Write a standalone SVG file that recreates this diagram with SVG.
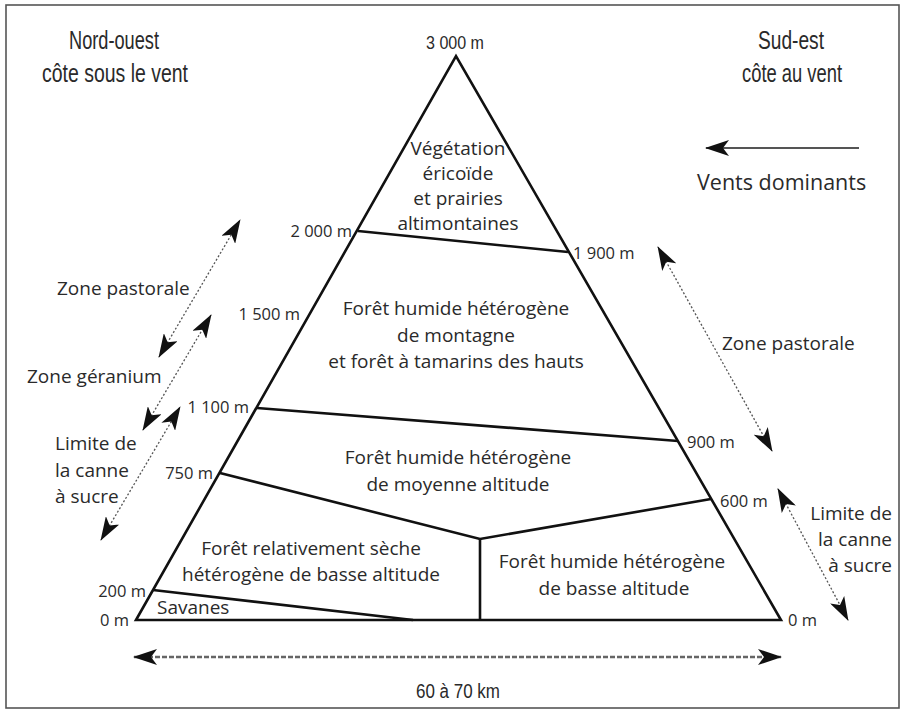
<svg xmlns="http://www.w3.org/2000/svg" width="907" height="714" viewBox="0 0 907 714">
<style>
.t{font-family:"Open Sans","Liberation Sans",sans-serif;font-size:19px;fill:#2a2a2a}
.c{text-anchor:middle}
.e{text-anchor:end}
.alt{font-family:"Open Sans","Liberation Sans",sans-serif;font-size:16.5px;fill:#2a2a2a}
.h{font-family:"Liberation Sans Narrow","Liberation Sans",sans-serif;font-size:25px;fill:#2a2a2a;text-anchor:middle}
.m{fill:none;stroke:#111;stroke-width:2.6;stroke-linejoin:miter}
.dot{stroke:#555;stroke-width:1.3;stroke-dasharray:2 2;fill:none}
.dash{stroke:#666;stroke-width:2.4;stroke-dasharray:5 2;fill:none}
</style>
<defs>
<marker id="ah" markerUnits="userSpaceOnUse" markerWidth="24" markerHeight="16" refX="23" refY="8" orient="auto-start-reverse" viewBox="0 0 24 16">
<path d="M0,0 L24,8 L0,16 L6,8 z" fill="#111"/>
</marker>
</defs>
<rect x="6" y="5" width="893" height="703" fill="#fff" stroke="#555" stroke-width="1.6"/>

<g id="mountain">
<polygon class="m" points="136,620 456,56 781,620"/>
<line class="m" x1="358" y1="231" x2="568" y2="252"/>
<line class="m" x1="257" y1="408" x2="678" y2="441"/>
<polyline class="m" points="220,473 480,539 711,499"/>
<line class="m" x1="480" y1="539" x2="480" y2="620"/>
<line class="m" x1="153" y1="590" x2="413" y2="620"/>
</g>

<g id="headings">
<text class="h" x="114" y="49" textLength="90" lengthAdjust="spacingAndGlyphs">Nord-ouest</text>
<text class="h" x="115" y="82" textLength="146" lengthAdjust="spacingAndGlyphs">côte sous le vent</text>
<text class="h" x="791" y="49" textLength="66" lengthAdjust="spacingAndGlyphs">Sud-est</text>
<text class="h" x="792" y="82" textLength="100" lengthAdjust="spacingAndGlyphs">côte au vent</text>
<text class="h" x="455" y="49" style="font-size:18px" textLength="58" lengthAdjust="spacingAndGlyphs">3 000 m</text>
<text class="h" x="458" y="698" style="font-size:20px" textLength="84" lengthAdjust="spacingAndGlyphs">60 à 70 km</text>
</g>

<g id="zone-top">
<text class="t c" x="458" y="155">Végétation</text>
<text class="t c" x="458" y="180">éricoïde</text>
<text class="t c" x="458" y="205">et prairies</text>
<text class="t c" x="458" y="230">altimontaines</text>
</g>
<g id="zone-montagne">
<text class="t c" x="456" y="315">Forêt humide hétérogène</text>
<text class="t c" x="456" y="342">de montagne</text>
<text class="t c" x="456" y="368">et forêt à tamarins des hauts</text>
</g>
<g id="zone-moyenne">
<text class="t c" x="458" y="464">Forêt humide hétérogène</text>
<text class="t c" x="458" y="491">de moyenne altitude</text>
</g>
<g id="zone-seche">
<text class="t c" x="311" y="555">Forêt relativement sèche</text>
<text class="t c" x="311" y="581">hétérogène de basse altitude</text>
</g>
<g id="zone-basse">
<text class="t c" x="612" y="568">Forêt humide hétérogène</text>
<text class="t c" x="614" y="595">de basse altitude</text>
</g>
<g id="savanes">
<text class="t" x="157" y="614">Savanes</text>
</g>

<g id="altitudes">
<text class="alt e" x="352" y="237">2 000 m</text>
<text class="alt" x="573" y="259">1 900 m</text>
<text class="alt e" x="300" y="320">1 500 m</text>
<text class="alt e" x="249" y="413">1 100 m</text>
<text class="alt" x="687" y="448">900 m</text>
<text class="alt e" x="213" y="479">750 m</text>
<text class="alt" x="720" y="507">600 m</text>
<text class="alt e" x="146" y="597">200 m</text>
<text class="alt e" x="129" y="626">0 m</text>
<text class="alt" x="788" y="626">0 m</text>
</g>

<g id="side-labels">
<text class="t" x="57" y="295">Zone pastorale</text>
<text class="t" x="27" y="383">Zone géranium</text>
<text class="t" x="55" y="450">Limite de</text>
<text class="t" x="55" y="477">la canne</text>
<text class="t" x="55" y="503">à sucre</text>
<text class="t" x="722" y="350">Zone pastorale</text>
<text class="t e" x="892" y="520">Limite de</text>
<text class="t e" x="892" y="546">la canne</text>
<text class="t e" x="892" y="572">à sucre</text>
<text class="t" x="697" y="190" style="font-size:21.5px">Vents dominants</text>
</g>

<g id="connectors">
<line class="dot" x1="159" y1="357" x2="240" y2="220" marker-start="url(#ah)" marker-end="url(#ah)"/>
<line class="dot" x1="143" y1="430" x2="211" y2="315" marker-start="url(#ah)" marker-end="url(#ah)"/>
<line class="dot" x1="101" y1="540" x2="180" y2="407" marker-start="url(#ah)" marker-end="url(#ah)"/>
<line class="dot" x1="658" y1="247" x2="772" y2="451" marker-start="url(#ah)" marker-end="url(#ah)"/>
<line class="dot" x1="778" y1="489" x2="848" y2="620" marker-start="url(#ah)" marker-end="url(#ah)"/>
<line class="dash" x1="134" y1="657" x2="781" y2="657" marker-start="url(#ah)" marker-end="url(#ah)"/>
<line x1="859" y1="148" x2="706" y2="148" stroke="#555" stroke-width="2" marker-end="url(#ah)"/>
</g>
</svg>
